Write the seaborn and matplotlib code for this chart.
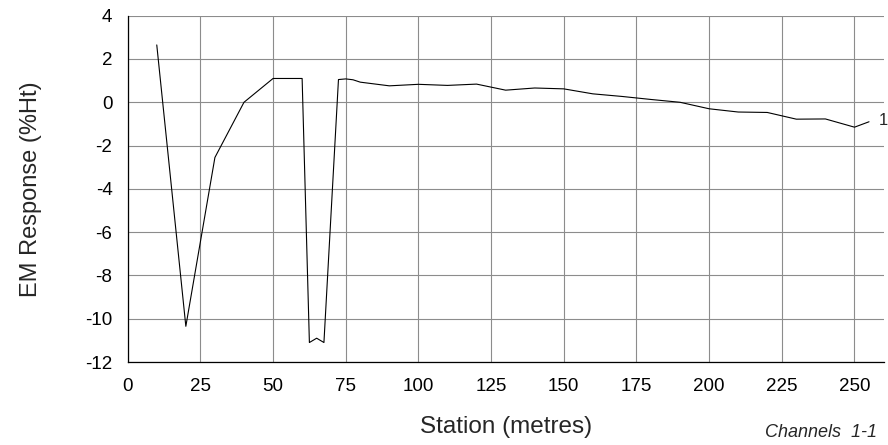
import matplotlib
matplotlib.use("Agg")
import matplotlib.pyplot as plt
import seaborn as sns
import pandas as pd

# Station positions (metres) and EM response readings (%Ht), channel 1
stations = [10, 20, 30, 40, 50, 60, 62.5, 65, 67.5, 72.5, 75, 77.5, 80, 90, 100,
            110, 120, 130, 140, 150, 160, 170, 180, 190, 200, 210, 220, 230, 240,
            250, 255]
response = [2.65, -10.35, -2.55, 0.0, 1.1, 1.1, -11.1, -10.9, -11.1, 1.05, 1.08,
            1.04, 0.93, 0.76, 0.83, 0.78, 0.84, 0.56, 0.66, 0.62, 0.39, 0.27,
            0.13, 0.0, -0.3, -0.45, -0.47, -0.78, -0.77, -1.15, -0.9]
channel_label = "1"

x_ticks = [0, 25, 50, 75, 100, 125, 150, 175, 200, 225, 250]
y_ticks = [4, 2, 0, -2, -4, -6, -8, -10, -12]

sns.set_theme(style="white")
plt.rcParams["font.family"] = ["Liberation Sans", "DejaVu Sans"]
plt.rcParams["axes.unicode_minus"] = False

df = pd.DataFrame({"station": stations, "response": response})

fig = plt.figure(figsize=(8.88, 4.45), dpi=100)
ax = fig.add_axes([0.1438, 0.1865, 0.8512, 0.7782])

sns.lineplot(data=df, x="station", y="response", sort=False, color="black",
             linewidth=0.8, ax=ax, zorder=3)

ax.set_xlim(0, 260)
ax.set_ylim(-12, 4)
ax.set_xticks(x_ticks)
ax.set_yticks(y_ticks)
ax.grid(True, color="#8c8c8c", linewidth=0.8)
ax.set_axisbelow(True)

for side in ("top", "right"):
    ax.spines[side].set_visible(False)
for side in ("left", "bottom"):
    ax.spines[side].set_color("black")
    ax.spines[side].set_linewidth(0.9)

ax.tick_params(axis="y", direction="out", length=5, width=0.8,
               color="#444444", labelsize=13.5, labelcolor="black", pad=6)
ax.tick_params(axis="x", direction="out", length=4.5, width=0.8,
               color="#666666", labelsize=13.5, labelcolor="black", pad=7)

ax.set_xlabel("Station (metres)", fontsize=17.5, labelpad=15)
ax.set_ylabel("EM Response (%Ht)", fontsize=17, labelpad=31)

# Channel number at the end of the trace
ax.annotate(channel_label, xy=(stations[-1], response[-1]), xytext=(7, 1),
            textcoords="offset points", fontsize=12, va="center", ha="left",
            annotation_clip=False)

fig.text(0.988, 0.018, "Channels  1-1", fontsize=13, style="italic",
         ha="right", va="baseline")

fig.savefig("out.png", dpi=100)
